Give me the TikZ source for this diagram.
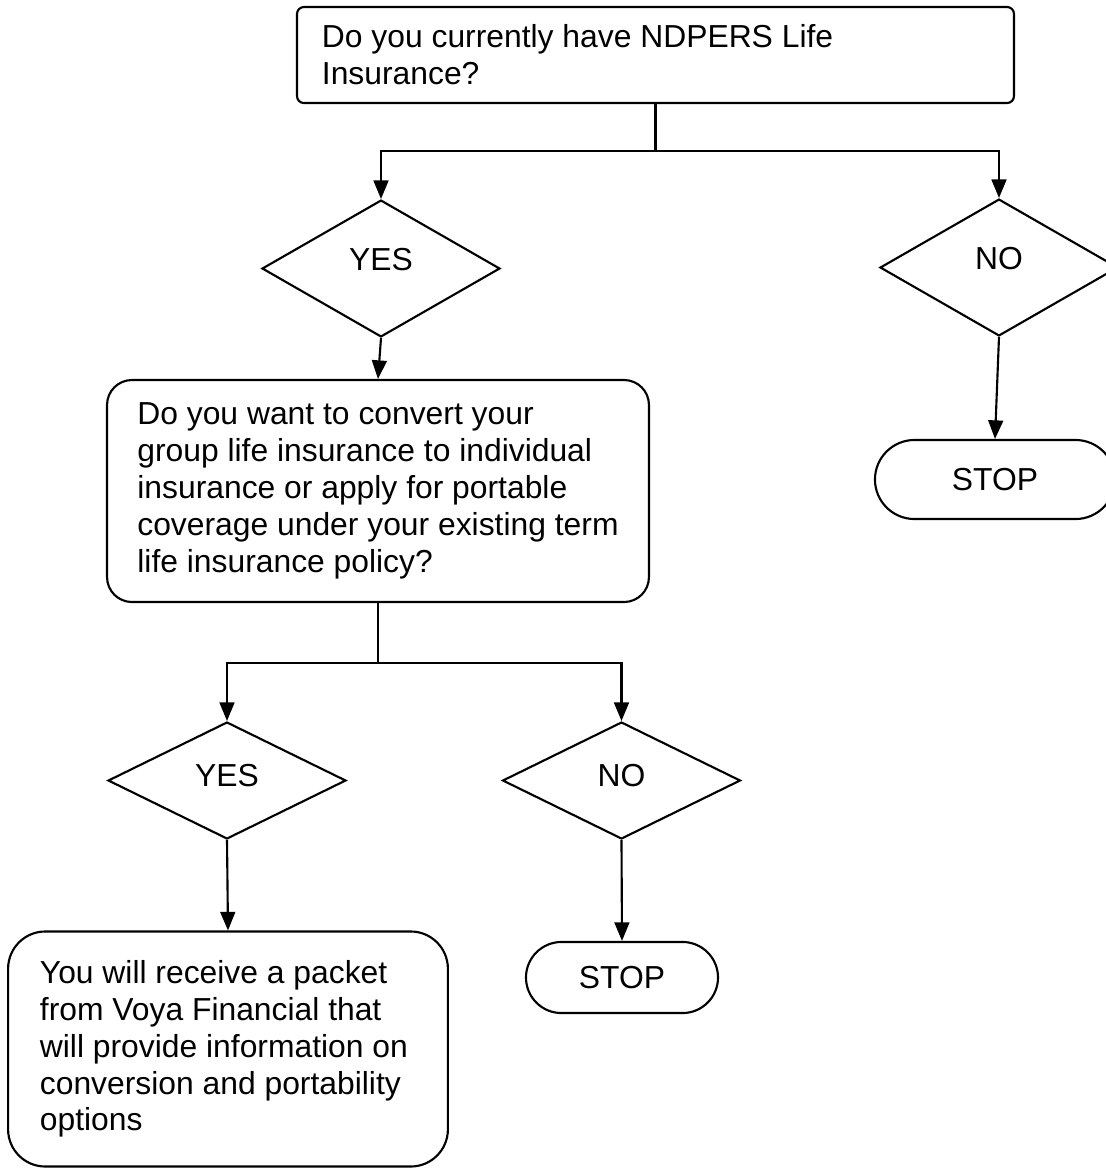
\documentclass[tikz,border=0pt]{standalone}
\usepackage{fontspec}
\setmainfont{Liberation Sans}
\usetikzlibrary{shapes.geometric,arrows.meta}
\begin{document}
\begin{tikzpicture}[x=0.377pt,y=-0.377pt,line width=0.8pt,font=\fontsize{12pt}{13.9pt}\selectfont]
\tikzstyle{every node}+=[inner sep=0pt]
\tikzstyle{box}=[draw,rectangle,align=flush left]
\tikzstyle{decision}=[draw,diamond,minimum width=89.7pt]
\tikzstyle{stopbox}=[draw,rectangle]
\tikzstyle{arr}=[-{Triangle[length=7pt,width=5.6pt]}]
\useasboundingbox (0,0) rectangle (1106,1169);
\node [box,text width=251.5pt,inner xsep=9.4pt,minimum height=36.2pt,rounded corners=2.6pt] (q1) at (655.5,55) {Do you currently have NDPERS Life\\Insurance?};
\node [decision,minimum height=51.6pt,text depth=7.2pt] (yes1) at (381,268.5) {YES};
\node [decision,minimum height=51.6pt,text depth=7.2pt] (no1) at (999,267.5) {NO};
\node [box,minimum width=204.3pt,minimum height=83.7pt,rounded corners=9.4pt] (q2) at (378,491) {Do you want to convert your\\group life insurance to individual\\insurance or apply for portable\\coverage under your existing term\\life insurance policy?};
\node [stopbox,minimum width=90.5pt,minimum height=29.8pt,rounded corners=14.9pt] (stop1) at (995,479.5) {STOP};
\node [decision,minimum height=44.1pt,text depth=3.8pt] (yes2) at (227,780.5) {YES};
\node [decision,minimum height=44.1pt,text depth=3.8pt] (no2) at (621.5,780.5) {NO};
\node [box,text width=141.8pt,inner xsep=12pt,minimum height=88.6pt,rounded corners=14pt] (q3) at (228,1049) {You will receive a packet\\from Voya Financial that\\will provide information on\\conversion and portability\\options};
\node [stopbox,minimum width=72.4pt,minimum height=26.8pt,rounded corners=13.4pt] (stop2) at (622,977.5) {STOP};
\draw (q1.south) -- ++(0,47) coordinate (j1);
\draw [arr] (j1) -| (yes1.north);
\draw [arr] (j1) -| (no1.north);
\draw [arr] (yes1.south) -- (q2.north);
\draw [arr] (no1.south) -- (stop1.north);
\draw (q2.south) -- ++(0,60) coordinate (j2);
\draw [arr] (j2) -| (yes2.north);
\draw [arr] (j2) -| (no2.north);
\draw [arr] (yes2.south) -- (q3.north);
\draw [arr] (no2.south) -- (stop2.north);
\end{tikzpicture}
\end{document}
